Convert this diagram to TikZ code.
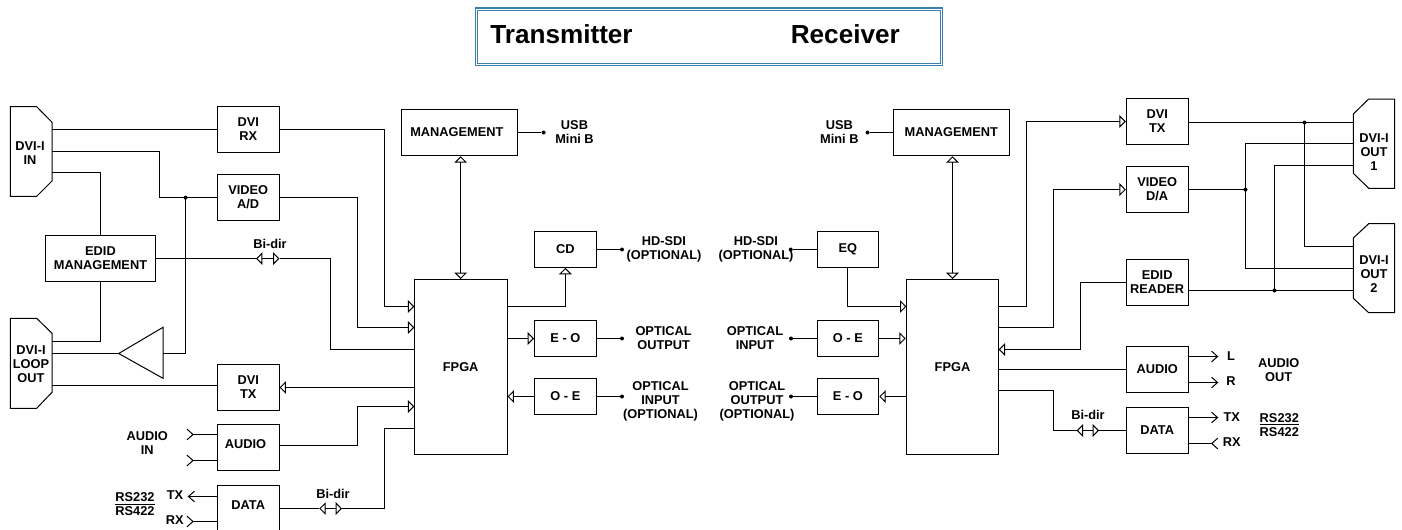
\documentclass[tikz,border=0pt]{standalone}
\usepackage{fontspec}
\setmainfont{Liberation Sans}
\usetikzlibrary{arrows.meta}
\definecolor{titleblue}{HTML}{3A7FAE}
\tikzset{
    >={Triangle[open,length=4.8pt,width=9.5pt]},
    barbto/.tip={Straight Barb[length=4.5pt,width=8pt]},
    link/.style={draw,line width=0.75pt,line join=miter},
    txt/.style={font=\bfseries\fontsize{9.6}{10.5}\selectfont,align=center,inner sep=0pt},
    block/.style={txt,draw,line width=0.75pt},
    smallbox/.style={block,minimum width=46.3pt,minimum height=34.7pt},
    optbox/.style={block,minimum width=46.3pt,minimum height=26.8pt},
    mgtbox/.style={block,minimum width=87pt,minimum height=34.9pt},
    edidbox/.style={block,minimum width=82.8pt,minimum height=34.7pt},
    fpgabox/.style={block,minimum width=69.5pt,minimum height=131.25pt},
    dot/.style={circle,fill,inner sep=0pt,minimum size=3pt},
}
\begin{document}
\begin{tikzpicture}[x=0.75pt,y=-0.75pt]
    \clip (0,0) rectangle (1402,529);

    \node[draw=titleblue,double=white,double distance=0.6pt,line width=1pt,minimum width=348.5pt,minimum height=41.5pt,inner sep=0pt] (titlebox) at (709,36.7) {};
    \node[font=\bfseries\fontsize{19.6}{22}\selectfont,inner sep=0pt] (transmitter) at (561.5,34) {Transmitter};
    \node[font=\bfseries\fontsize{19.6}{22}\selectfont,inner sep=0pt] (receiver) at (845.3,34) {Receiver};

    \node[smallbox] (dvirx) at (248.2,129.5) {DVI\\RX};
    \node[smallbox] (videoad) at (248.2,197.6) {VIDEO\\A/D};
    \node[edidbox] (edidmgt) at (100.5,258.6) {EDID\\MANAGEMENT};
    \node[smallbox] (dvitxT) at (248.2,387.5) {DVI\\TX};
    \node[smallbox] (audioT) at (248.2,447.5) {\raisebox{4.5pt}{\hspace*{-4pt}AUDIO}};
    \node[smallbox] (dataT) at (248.2,508.5) {\raisebox{4.5pt}{DATA}};
    \node[mgtbox] (mgtT) at (459.5,132.5) {\hspace*{-4pt}MANAGEMENT};
    \node[fpgabox] (fpgaT) at (460.7,367) {FPGA};
    \node[optbox] (cd) at (565.4,249.5) {CD};
    \node[optbox] (eoT) at (565.4,338.5) {E - O};
    \node[optbox] (oeT) at (565.4,396.5) {O - E};

    \node[optbox] (eq) at (847.9,249.5) {EQ};
    \node[optbox] (oeR) at (847.9,338.5) {O - E};
    \node[optbox] (eoR) at (847.9,396.5) {E - O};
    \node[mgtbox] (mgtR) at (951.3,132.5) {MANAGEMENT};
    \node[fpgabox] (fpgaR) at (952.5,367) {FPGA};
    \node[smallbox] (dvitxR) at (1157.2,121.5) {DVI\\TX};
    \node[smallbox] (videoda) at (1157.2,189.6) {VIDEO\\D/A};
    \node[smallbox] (edidrd) at (1157.2,282.5) {EDID\\READER};
    \node[smallbox] (audioR) at (1157.2,369.5) {AUDIO};
    \node[smallbox] (dataR) at (1157.2,430.5) {DATA};

    \draw[link] (10.3,106.7) -- (36.7,106.7) -- (52,122.3) -- (52,181) -- (36.7,196.3) -- (10.3,196.3) -- cycle;
    \node[txt] (dviin) at (30,152.7) {DVI-I\\IN};
    \draw[link] (10.3,318.3) -- (36.7,318.3) -- (52,333.3) -- (52,392.3) -- (36.7,408.3) -- (10.3,408.3) -- cycle;
    \node[txt] (dviloop) at (31,364) {DVI-I\\LOOP\\OUT};
    \draw[link] (1394.7,99) -- (1368.7,99) -- (1353.3,114) -- (1353.3,173.3) -- (1368.7,188.3) -- (1394.7,188.3) -- cycle;
    \node[txt] (dviout1) at (1374,152.5) {DVI-I\\OUT\\1};
    \draw[link] (1394.7,223.7) -- (1368.7,223.7) -- (1353.3,238) -- (1353.3,298.3) -- (1368.7,312.7) -- (1394.7,312.7) -- cycle;
    \node[txt] (dviout2) at (1374,274) {DVI-I\\OUT\\2};
    \draw[link] (118.7,353.5) -- (163,327.3) -- (163,378.3) -- cycle;

    \coordinate (inA) at (52,129.5);
    \coordinate (inB) at (52,151.6);
    \coordinate (inC) at (52,172.6);
    \coordinate (loopA) at (52,341.6);
    \coordinate (loopB) at (52,353.5);
    \coordinate (loopC) at (52,385.5);
    \coordinate (amptip) at (118.7,353.5);
    \coordinate (ampbase) at (163,353.5);
    \coordinate (portA) at (414.3,306.5);
    \coordinate (portB) at (414.3,327.5);
    \coordinate (portC) at (414.3,349.5);
    \coordinate (portD) at (414.3,387.5);
    \coordinate (portE) at (414.3,406.5);
    \coordinate (portF) at (414.3,428.5);
    \coordinate (portG) at (507,306.5);
    \coordinate (portH) at (906.4,306.5);
    \coordinate (portJ) at (998.7,306.5);
    \coordinate (portK) at (998.7,327.5);
    \coordinate (portL) at (998.7,349.5);
    \coordinate (portM) at (998.7,369.5);
    \coordinate (portN) at (998.7,390.5);
    \coordinate (outA) at (1353.3,122.5);
    \coordinate (outB) at (1353.3,143.5);
    \coordinate (outC) at (1353.3,165.5);
    \coordinate (outD) at (1353.3,246.5);
    \coordinate (outE) at (1353.3,268.5);
    \coordinate (outF) at (1353.3,290.5);

    \node[dot] (splitT) at (185.6,197.6) {};
    \node[dot] (splitA) at (1304.5,122.5) {};
    \node[dot] (splitB) at (1245.5,189.6) {};
    \node[dot] (splitC) at (1274.5,290.5) {};

    \draw[link] (inA) -- (dvirx.west |- inA);
    \draw[link] (inB) -- ++(107.6,0) |- (videoad.west);
    \draw[link] (inC) -| (edidmgt.north);
    \draw[link] (edidmgt.south) |- (loopA);
    \draw[link] (loopB) -- (amptip);
    \draw[link] (ampbase) -| (splitT.center);
    \draw[link] (loopC) -- (dvitxT.west |- loopC);
    \draw[link,->] (dvirx.east) -- ++(105.4,0) |- (portA);
    \draw[link,->] (videoad.east) -- ++(78.4,0) |- (portB);
    \draw[link,->] (portD) -- (dvitxT.east);
    \draw[link,->] (audioT.east |- 0,445.5) -- ++(78.4,0) |- (portE);

    \coordinate (bidirAl) at (256,258.6);
    \coordinate (bidirAr) at (279.5,258.6);
    \coordinate (bidirBl) at (319.3,508.5);
    \coordinate (bidirBr) at (342,508.5);
    \coordinate (bidirCl) at (1076.7,430.5);
    \coordinate (bidirCr) at (1099,430.5);
    \node[txt] (bidirA) at (270,243.7) {Bi-dir};
    \node[txt] (bidirB) at (333,493.5) {Bi-dir};
    \node[txt] (bidirC) at (1088,414.7) {Bi-dir};
    \draw[link] (edidmgt.east |- bidirAl) -- (bidirAl);
    \draw[link,<->] (bidirAl) -- (bidirAr);
    \draw[link] (bidirAr) -- ++(51,0) |- (portC);
    \draw[link] (dataT.east) -- (bidirBl);
    \draw[link,<->] (bidirBl) -- (bidirBr);
    \draw[link] (bidirBr) -- ++(42.5,0) |- (portF);
    \draw[link] (portN) -- ++(54.8,0) |- (bidirCl);
    \draw[link,<->] (bidirCl) -- (bidirCr);
    \draw[link] (bidirCr) -- (dataR.west);

    \coordinate (audioinA) at (193,434.5);
    \coordinate (audioinB) at (193,460.5);
    \coordinate (txT) at (187.7,496.5);
    \coordinate (rxT) at (193,521.5);
    \node[txt] (audioin) at (147.3,443) {AUDIO\\IN};
    \node[txt] (txlabelT) at (175,495) {TX};
    \node[txt] (rxlabelT) at (174.7,520.3) {RX};
    \node[txt] (rsT) at (135,504.5) {\underline{RS232}\\RS422};
    \draw[link] (audioinA) -- (audioT.west |- audioinA);
    \draw[link] (audioinB) -- (audioT.west |- audioinB);
    \draw[link,-barbto] (dataT.west |- txT) -- (txT);
    \draw[link] (rxT) -- (dataT.west |- rxT);
    \draw[link] (audioinA) -- ++(-6,-5.3) (audioinA) -- ++(-6,5.3);
    \draw[link] (audioinB) -- ++(-6,-5.3) (audioinB) -- ++(-6,5.3);
    \draw[link] (rxT) -- ++(-6,-5.3) (rxT) -- ++(-6,5.3);

    \draw[link,<->] (fpgaT.north) -- (fpgaT.north |- mgtT.south);
    \draw[link,->] (portG) -| (cd.south);
    \draw[link,->] (fpgaT.east |- eoT) -- (eoT.west);
    \draw[link,->] (oeT.west) -- (fpgaT.east |- oeT);
    \node[dot] (usbT) at (543.6,132.5) {};
    \node[dot] (sdiT) at (622,249.5) {};
    \node[dot] (optoutT) at (622,338.5) {};
    \node[dot] (optinT) at (622,396.5) {};
    \draw[link] (mgtT.east |- usbT) -- (usbT);
    \draw[link] (cd.east) -- (sdiT);
    \draw[link] (eoT.east) -- (optoutT);
    \draw[link] (oeT.east) -- (optinT);
    \node[txt] (usblabelT) at (574.5,132.5) {USB\\Mini B};
    \node[txt] (sdilabelT) at (664,249.3) {HD-SDI\\(OPTIONAL)};
    \node[txt] (optoutlabelT) at (663.6,338.5) {OPTICAL\\OUTPUT};
    \node[txt] (optinlabelT) at (660.5,401.5) {OPTICAL\\INPUT\\(OPTIONAL)};

    \node[dot] (usbR) at (867.5,132.5) {};
    \node[dot] (sdiR) at (790.7,249.5) {};
    \node[dot] (optinR) at (791,338.5) {};
    \node[dot] (optoutR) at (791,396.5) {};
    \draw[link] (mgtR.west |- usbR) -- (usbR);
    \draw[link] (eq.west) -- (sdiR);
    \draw[link] (oeR.west) -- (optinR);
    \draw[link] (eoR.west) -- (optoutR);
    \node[txt] (usblabelR) at (839.3,132.5) {USB\\Mini B};
    \node[txt] (sdilabelR) at (756,249.3) {HD-SDI\\(OPTIONAL)};
    \node[txt] (optinlabelR) at (755,338.5) {OPTICAL\\INPUT};
    \node[txt] (optoutlabelR) at (757,401.5) {OPTICAL\\OUTPUT\\(OPTIONAL)};
    \draw[link,->] (eq.south) |- (portH);
    \draw[link,->] (oeR.east) -- (fpgaR.west |- oeR);
    \draw[link,->] (fpgaR.west |- eoR) -- (eoR.east);
    \draw[link,<->] (fpgaR.north) -- (fpgaR.north |- mgtR.south);

    \draw[link,->] (portJ) -- ++(27.8,0) |- (dvitxR.west);
    \draw[link,->] (portK) -- ++(54.8,0) |- (videoda.west);
    \draw[link,->] (edidrd.west) -- ++(-45.5,0) |- (portL);
    \draw[link] (portM) -- (audioR.west);
    \draw[link] (dvitxR.east |- outA) -- (outA);
    \draw[link] (splitA.center) |- (outD);
    \draw[link] (videoda.east) -- (splitB.center);
    \draw[link] (outB) -| (splitB.center) |- (outE);
    \draw[link] (edidrd.east |- outF) -- (outF);
    \draw[link] (splitC.center) |- (outC);

    \coordinate (audiooutL) at (1218.3,356.5);
    \coordinate (audiooutR) at (1218.3,382.5);
    \coordinate (txR) at (1218.3,417.5);
    \coordinate (rxR) at (1211.7,443.5);
    \draw[link,-barbto] (audioR.east |- audiooutL) -- (audiooutL);
    \draw[link,-barbto] (audioR.east |- audiooutR) -- (audiooutR);
    \draw[link,-barbto] (dataR.east |- txR) -- (txR);
    \draw[link] (dataR.east |- rxR) -- (rxR);
    \draw[link] (rxR) -- ++(6,-5.3) (rxR) -- ++(6,5.3);
    \node[txt] (llabel) at (1231,355.7) {L};
    \node[txt] (rlabel) at (1231,381.3) {R};
    \node[txt] (txlabelR) at (1231.7,416.7) {TX};
    \node[txt] (rxlabelR) at (1231.7,442.3) {RX};
    \node[txt] (audioout) at (1278.7,370.5) {AUDIO\\OUT};
    \node[txt] (rsR) at (1279.3,425.3) {\underline{RS232}\\RS422};
\end{tikzpicture}
\end{document}
